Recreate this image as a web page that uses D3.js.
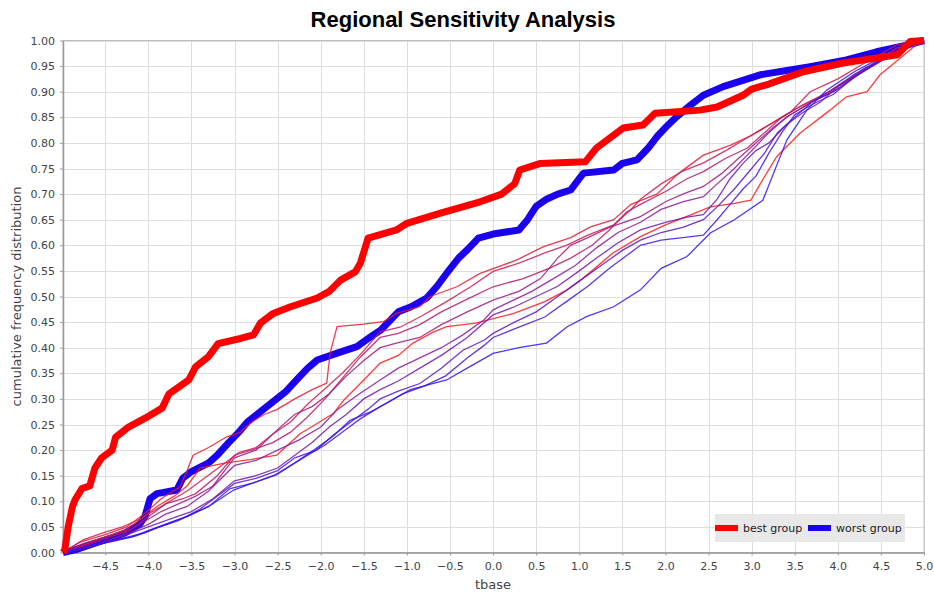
<!DOCTYPE html>
<html>
<head>
<meta charset="utf-8">
<script src="https://cdn.jsdelivr.net/npm/d3@7"></script>
<style>
  body { margin: 0; background: #fff; }
  svg { display: block; font-family: "DejaVu Sans", sans-serif; }
</style>
</head>
<body>
<svg id="chart"></svg>
<script>
const width = 934;
const height = 595;

// x ticks / y ticks
const xTicks = [-4.5, -4.0, -3.5, -3.0, -2.5, -2.0, -1.5, -1.0, -0.5, 0.0, 0.5, 1.0, 1.5, 2.0, 2.5, 3.0, 3.5, 4.0, 4.5, 5.0];
const yTicks = [0, 0.05, 0.10, 0.15, 0.20, 0.25, 0.30, 0.35, 0.40, 0.45, 0.50, 0.55, 0.60, 0.65, 0.70, 0.75, 0.80, 0.85, 0.90, 0.95, 1.0];

// thick groups
const bestGroup = [[-4.99,0],[-4.97,0.005],[-4.93,0.05],[-4.88,0.09],[-4.85,0.103],[-4.77,0.125],[-4.68,0.13],[-4.62,0.165],[-4.54,0.185],[-4.42,0.2],[-4.38,0.225],[-4.23,0.245],[-4.0,0.266],[-3.84,0.282],[-3.76,0.31],[-3.53,0.337],[-3.45,0.363],[-3.3,0.383],[-3.19,0.408],[-2.93,0.418],[-2.78,0.425],[-2.7,0.448],[-2.55,0.467],[-2.35,0.48],[-2.04,0.497],[-1.9,0.51],[-1.77,0.532],[-1.6,0.548],[-1.54,0.565],[-1.45,0.614],[-1.12,0.63],[-1.0,0.643],[-0.61,0.663],[-0.15,0.685],[0.1,0.7],[0.25,0.72],[0.31,0.747],[0.55,0.76],[1.07,0.763],[1.2,0.79],[1.51,0.829],[1.74,0.835],[1.88,0.858],[2.4,0.864],[2.6,0.87],[2.9,0.893],[3.0,0.905],[3.2,0.915],[3.6,0.939],[4.06,0.956],[4.69,0.972],[4.84,0.998],[5,1]];
const worstGroup = [[-4.99,0],[-4.85,0.005],[-4.62,0.018],[-4.4,0.03],[-4.27,0.038],[-4.1,0.055],[-4.04,0.07],[-3.98,0.105],[-3.9,0.115],[-3.67,0.122],[-3.6,0.145],[-3.5,0.158],[-3.3,0.175],[-3.2,0.19],[-3.07,0.214],[-2.95,0.235],[-2.85,0.255],[-2.7,0.275],[-2.55,0.295],[-2.4,0.315],[-2.28,0.337],[-2.15,0.36],[-2.04,0.376],[-1.8,0.39],[-1.58,0.402],[-1.43,0.42],[-1.3,0.435],[-1.19,0.454],[-1.1,0.47],[-0.95,0.48],[-0.77,0.497],[-0.65,0.52],[-0.54,0.545],[-0.4,0.575],[-0.3,0.591],[-0.17,0.614],[0.0,0.622],[0.3,0.63],[0.4,0.65],[0.5,0.676],[0.62,0.69],[0.75,0.7],[0.9,0.708],[1.0,0.73],[1.05,0.741],[1.4,0.747],[1.5,0.76],[1.67,0.767],[1.8,0.79],[1.9,0.812],[2.0,0.83],[2.13,0.851],[2.3,0.875],[2.44,0.893],[2.67,0.91],[3.1,0.933],[3.68,0.949],[4.1,0.962],[4.45,0.978],[4.8,0.991],[5,1]];

// thin runs, red -> blue
const run0 = [[-4.99,0],[-4.8,0.012],[-4.5,0.03],[-4.25,0.045],[-4.05,0.07],[-3.9,0.09],[-3.7,0.11],[-3.55,0.13],[-3.4,0.165],[-3.1,0.175],[-2.8,0.182],[-2.51,0.19],[-2.35,0.215],[-2.24,0.232],[-2.08,0.248],[-1.85,0.272],[-1.73,0.298],[-1.5,0.337],[-1.31,0.37],[-1.1,0.385],[-0.93,0.409],[-0.7,0.43],[-0.54,0.441],[-0.2,0.448],[0.24,0.467],[0.6,0.49],[0.86,0.513],[1.0,0.53],[1.16,0.552],[1.39,0.585],[1.71,0.617],[2.0,0.64],[2.3,0.66],[2.52,0.675],[2.8,0.682],[2.99,0.688],[3.1,0.72],[3.29,0.773],[3.56,0.819],[3.91,0.864],[4.1,0.89],[4.34,0.9],[4.49,0.933],[4.72,0.965],[4.9,0.99],[5,1]];
const run1 = [[-4.99,0],[-4.8,0.02],[-4.5,0.035],[-4.25,0.05],[-4.05,0.075],[-3.85,0.105],[-3.63,0.129],[-3.55,0.16],[-3.48,0.19],[-3.3,0.205],[-3.09,0.226],[-2.94,0.234],[-2.8,0.255],[-2.65,0.27],[-2.51,0.279],[-2.3,0.3],[-2.1,0.318],[-1.93,0.331],[-1.89,0.39],[-1.81,0.441],[-1.5,0.446],[-1.27,0.451],[-1.12,0.467],[-0.85,0.48],[-0.73,0.5],[-0.42,0.519],[-0.15,0.545],[0.27,0.571],[0.58,0.597],[0.9,0.615],[1.13,0.636],[1.4,0.65],[1.6,0.68],[1.9,0.7],[2.15,0.74],[2.44,0.776],[2.75,0.795],[3.0,0.815],[3.3,0.845],[3.55,0.87],[3.8,0.89],[4.03,0.915],[4.34,0.945],[4.68,0.985],[5,1]];
const run2 = [[-4.99,0],[-4.75,0.025],[-4.5,0.04],[-4.3,0.05],[-4.1,0.065],[-3.95,0.08],[-3.75,0.1],[-3.55,0.12],[-3.35,0.145],[-3.15,0.17],[-2.95,0.195],[-2.75,0.205],[-2.55,0.232],[-2.35,0.255],[-2.15,0.29],[-1.95,0.32],[-1.75,0.35],[-1.55,0.385],[-1.31,0.431],[-1.08,0.44],[-0.85,0.46],[-0.54,0.49],[-0.25,0.52],[0.0,0.549],[0.3,0.565],[0.6,0.585],[0.85,0.6],[1.1,0.62],[1.4,0.64],[1.6,0.67],[1.71,0.69],[1.95,0.72],[2.2,0.745],[2.44,0.761],[2.7,0.785],[2.95,0.81],[3.2,0.835],[3.45,0.86],[3.68,0.9],[4.0,0.925],[4.34,0.959],[4.68,0.991],[5,1]];
const run3 = [[-4.99,0],[-4.7,0.015],[-4.45,0.03],[-4.2,0.045],[-4.0,0.07],[-3.8,0.095],[-3.6,0.105],[-3.45,0.115],[-3.2,0.15],[-3.0,0.19],[-2.8,0.2],[-2.55,0.215],[-2.35,0.235],[-2.15,0.265],[-1.95,0.3],[-1.75,0.34],[-1.55,0.38],[-1.31,0.42],[-1.1,0.428],[-0.85,0.445],[-0.6,0.47],[-0.3,0.495],[0.0,0.519],[0.35,0.535],[0.65,0.555],[0.9,0.575],[1.15,0.6],[1.35,0.63],[1.55,0.665],[1.71,0.68],[2.0,0.705],[2.25,0.73],[2.44,0.744],[2.7,0.77],[2.95,0.79],[3.15,0.82],[3.35,0.85],[3.6,0.875],[3.9,0.9],[4.2,0.93],[4.5,0.96],[4.8,0.99],[5,1]];
const run4 = [[-4.99,0],[-4.75,0.018],[-4.5,0.03],[-4.25,0.04],[-4.05,0.06],[-3.85,0.08],[-3.65,0.095],[-3.45,0.11],[-3.25,0.13],[-3.0,0.185],[-2.75,0.2],[-2.5,0.24],[-2.3,0.27],[-2.1,0.285],[-1.9,0.31],[-1.7,0.345],[-1.5,0.375],[-1.31,0.4],[-1.1,0.41],[-0.85,0.42],[-0.6,0.445],[-0.3,0.47],[0.0,0.493],[0.3,0.51],[0.55,0.535],[0.75,0.575],[0.9,0.6],[1.1,0.615],[1.35,0.635],[1.71,0.656],[2.0,0.685],[2.2,0.7],[2.44,0.715],[2.65,0.74],[2.85,0.77],[3.05,0.8],[3.25,0.83],[3.45,0.855],[3.7,0.88],[4.0,0.905],[4.3,0.94],[4.6,0.97],[4.85,0.99],[5,1]];
const run5 = [[-4.99,0],[-4.7,0.01],[-4.45,0.025],[-4.2,0.04],[-4.0,0.055],[-3.8,0.075],[-3.55,0.09],[-3.3,0.12],[-3.0,0.17],[-2.75,0.18],[-2.5,0.2],[-2.25,0.22],[-2.0,0.245],[-1.8,0.28],[-1.55,0.31],[-1.31,0.337],[-1.1,0.36],[-0.85,0.38],[-0.6,0.4],[-0.35,0.425],[-0.1,0.455],[0.0,0.474],[0.2,0.49],[0.45,0.51],[0.7,0.535],[0.95,0.56],[1.2,0.595],[1.45,0.625],[1.71,0.645],[1.95,0.67],[2.2,0.685],[2.44,0.695],[2.6,0.72],[2.8,0.75],[3.0,0.785],[3.2,0.82],[3.4,0.85],[3.65,0.875],[3.9,0.9],[4.2,0.935],[4.5,0.96],[4.8,0.985],[5,1]];
const run6 = [[-4.99,0],[-4.75,0.008],[-4.5,0.02],[-4.25,0.035],[-4.0,0.05],[-3.75,0.065],[-3.5,0.08],[-3.25,0.105],[-3.0,0.14],[-2.75,0.15],[-2.5,0.165],[-2.3,0.19],[-2.1,0.215],[-1.9,0.245],[-1.7,0.27],[-1.5,0.3],[-1.31,0.318],[-1.1,0.335],[-0.85,0.36],[-0.6,0.385],[-0.3,0.42],[0.0,0.464],[0.25,0.48],[0.5,0.5],[0.75,0.52],[1.0,0.55],[1.2,0.575],[1.45,0.605],[1.71,0.63],[2.0,0.645],[2.25,0.655],[2.44,0.66],[2.6,0.69],[2.75,0.73],[2.9,0.76],[3.05,0.785],[3.2,0.8],[3.4,0.835],[3.6,0.86],[3.8,0.88],[4.0,0.91],[4.3,0.945],[4.6,0.97],[4.85,0.99],[5,1]];
const run7 = [[-4.99,0],[-4.7,0.012],[-4.4,0.022],[-4.15,0.032],[-3.9,0.048],[-3.65,0.062],[-3.4,0.085],[-3.2,0.11],[-3.0,0.135],[-2.75,0.145],[-2.5,0.16],[-2.3,0.185],[-2.05,0.2],[-1.85,0.23],[-1.65,0.255],[-1.45,0.28],[-1.31,0.3],[-1.1,0.315],[-0.85,0.33],[-0.6,0.36],[-0.35,0.395],[-0.1,0.415],[0.0,0.428],[0.25,0.45],[0.5,0.47],[0.75,0.5],[1.0,0.53],[1.25,0.56],[1.5,0.59],[1.71,0.61],[1.95,0.625],[2.2,0.635],[2.44,0.65],[2.6,0.675],[2.8,0.71],[3.0,0.75],[3.15,0.78],[3.3,0.82],[3.5,0.85],[3.7,0.88],[3.95,0.9],[4.2,0.93],[4.5,0.96],[4.8,0.99],[5,1]];
const run8 = [[-4.99,0],[-4.8,0.008],[-4.55,0.018],[-4.3,0.028],[-4.05,0.038],[-3.8,0.055],[-3.55,0.07],[-3.3,0.09],[-3.05,0.125],[-2.8,0.135],[-2.55,0.15],[-2.35,0.17],[-2.15,0.19],[-1.95,0.21],[-1.75,0.235],[-1.55,0.26],[-1.31,0.285],[-1.05,0.31],[-0.8,0.325],[-0.55,0.345],[-0.3,0.38],[-0.1,0.405],[0.0,0.42],[0.3,0.44],[0.6,0.46],[0.85,0.49],[1.1,0.52],[1.35,0.555],[1.55,0.58],[1.71,0.6],[1.95,0.61],[2.2,0.615],[2.44,0.62],[2.6,0.65],[2.75,0.68],[2.9,0.71],[3.05,0.735],[3.2,0.78],[3.35,0.82],[3.5,0.855],[3.7,0.875],[3.95,0.895],[4.2,0.93],[4.5,0.965],[4.8,0.99],[5,1]];
const run9 = [[-4.99,0],[-4.56,0.018],[-4.2,0.03],[-3.98,0.044],[-3.56,0.07],[-3.3,0.09],[-3.01,0.122],[-2.8,0.135],[-2.51,0.152],[-2.3,0.175],[-2.08,0.2],[-1.85,0.228],[-1.66,0.258],[-1.43,0.274],[-1.23,0.292],[-0.96,0.318],[-0.54,0.337],[-0.3,0.36],[0.0,0.389],[0.3,0.4],[0.62,0.409],[0.86,0.441],[1.09,0.461],[1.4,0.48],[1.71,0.513],[1.95,0.555],[2.25,0.578],[2.52,0.624],[2.8,0.65],[3.13,0.688],[3.3,0.76],[3.41,0.806],[3.64,0.864],[3.87,0.903],[4.2,0.94],[4.6,0.975],[5,1]];
const runs = [run0, run1, run2, run3, run4, run5, run6, run7, run8, run9];

const legendItems = ['best group', 'worst group'];

const margin = {top: 40.5, right: 10, bottom: 42.5, left: 63};

const svg = d3.select('#chart')
  .attr('width', width)
  .attr('height', height);

const x = d3.scaleLinear().domain([-4.99, 5]).range([margin.left, width - margin.right]);
const y = d3.scaleLinear().domain([0, 1]).range([height - margin.bottom, margin.top]);

// grid
svg.append('g')
  .selectAll('line')
  .data(xTicks)
  .enter()
  .append('line')
    .attr('x1', d => Math.round(x(d)) + 0.5)
    .attr('x2', d => Math.round(x(d)) + 0.5)
    .attr('y1', margin.top)
    .attr('y2', height - margin.bottom)
    .attr('stroke', '#dedede')
    .attr('stroke-width', 1);

svg.append('g')
  .selectAll('line')
  .data(yTicks)
  .enter()
  .append('line')
    .attr('x1', margin.left)
    .attr('x2', width - margin.right)
    .attr('y1', d => Math.round(y(d)) + 0.5)
    .attr('y2', d => Math.round(y(d)) + 0.5)
    .attr('stroke', '#dedede')
    .attr('stroke-width', 1);

// plot outline
svg.append('rect')
  .attr('x', margin.left)
  .attr('y', margin.top)
  .attr('width', width - margin.right - margin.left)
  .attr('height', height - margin.bottom - margin.top)
  .attr('fill', 'none')
  .attr('stroke', '#bdbdbd')
  .attr('stroke-width', 1);

// axes
const xAxis = d3.axisBottom(x)
  .tickValues(xTicks)
  .tickFormat(d3.format('.1f'))
  .tickSizeInner(3)
  .tickSizeOuter(0)
  .tickPadding(7);

const yAxis = d3.axisLeft(y)
  .tickValues(yTicks)
  .tickFormat(d3.format('.2f'))
  .tickSizeInner(3)
  .tickSizeOuter(0)
  .tickPadding(5);

const gx = svg.append('g')
  .attr('transform', `translate(0,${height - margin.bottom})`)
  .call(xAxis);

const gy = svg.append('g')
  .attr('transform', `translate(${margin.left},0)`)
  .call(yAxis);

[gx, gy].forEach(g => {
  g.select('.domain').attr('stroke', '#9a9a9a').attr('stroke-width', 1.5);
  g.selectAll('.tick line').attr('stroke', '#9a9a9a');
  g.selectAll('.tick text')
    .attr('fill', '#444')
    .style('font-family', '"DejaVu Sans", sans-serif')
    .style('font-size', '11px');
});

// lines
const line = d3.line()
  .x(d => x(d[0]))
  .y(d => y(d[1]));

const runColor = i => d3.interpolateRgb('#ff1a1a', '#2a14ff')(i / (runs.length - 1));

svg.append('path')
  .datum(worstGroup)
  .attr('d', line)
  .attr('fill', 'none')
  .attr('stroke', '#1a00ee')
  .attr('stroke-width', 7)
  .attr('stroke-linejoin', 'round');

svg.append('g')
  .selectAll('path')
  .data(runs)
  .enter()
  .append('path')
    .attr('d', line)
    .attr('fill', 'none')
    .attr('stroke', (d, i) => runColor(i))
    .attr('stroke-opacity', 0.85)
    .attr('stroke-width', 1.3);

svg.append('path')
  .datum(bestGroup)
  .attr('d', line)
  .attr('fill', 'none')
  .attr('stroke', '#ff0000')
  .attr('stroke-width', 7)
  .attr('stroke-linejoin', 'round');

// title & labels
svg.append('text')
  .attr('x', 463)
  .attr('y', 27)
  .attr('text-anchor', 'middle')
  .style('font-family', '"Liberation Sans", Arial, sans-serif')
  .style('font-weight', 'bold')
  .style('font-size', '22px')
  .attr('fill', '#000')
  .text('Regional Sensitivity Analysis');

svg.append('text')
  .attr('x', x(0))
  .attr('y', 589)
  .attr('text-anchor', 'middle')
  .style('font-size', '13px')
  .attr('fill', '#444')
  .text('tbase');

svg.append('text')
  .attr('transform', `translate(21,${(margin.top + height - margin.bottom) / 2}) rotate(-90)`)
  .attr('text-anchor', 'middle')
  .style('font-size', '13px')
  .attr('fill', '#444')
  .text('cumulative frequency distribution');

// legend
const legend = svg.append('g').attr('transform', 'translate(715,514)');
legend.append('rect')
  .attr('width', 190)
  .attr('height', 28)
  .attr('fill', '#e8e8e8');

const legendColors = ['#ff0000', '#1a00ee'];
const legendX = [0, 93];
legendItems.forEach((name, i) => {
  legend.append('rect')
    .attr('x', legendX[i])
    .attr('y', 11)
    .attr('width', 23)
    .attr('height', 6)
    .attr('fill', legendColors[i]);
  legend.append('text')
    .attr('x', legendX[i] + 28)
    .attr('y', 18)
    .style('font-size', '11px')
    .attr('fill', '#222')
    .text(name);
});
</script>
</body>
</html>
